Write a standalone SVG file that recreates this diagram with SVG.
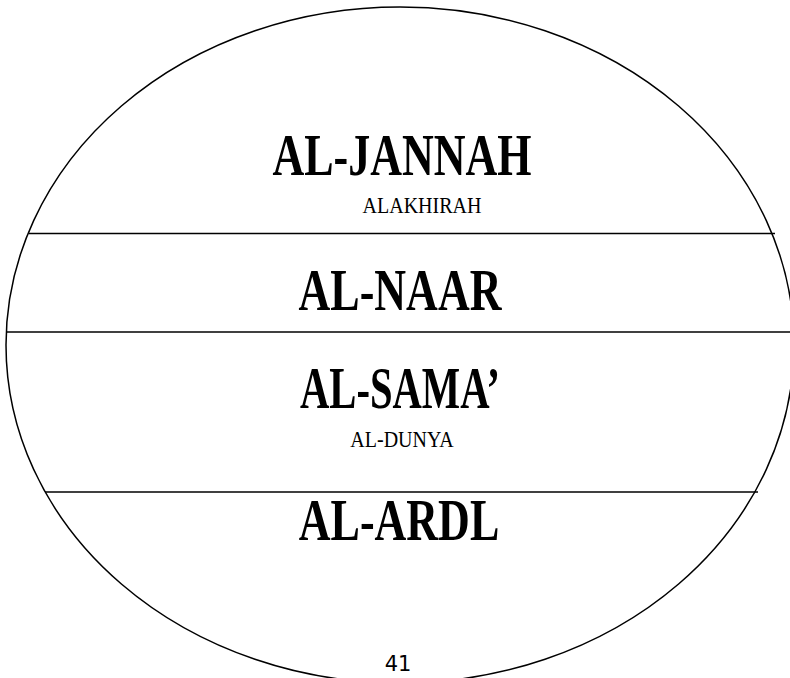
<svg xmlns="http://www.w3.org/2000/svg" width="790" height="678" viewBox="0 0 790 678">
<style>
.ln{stroke:#000;stroke-width:1.5;fill:none}
.big{font-family:"Liberation Serif","Times New Roman",serif;font-weight:bold;font-size:44px;fill:#000;text-anchor:middle}
.small{font-family:"Liberation Serif","Times New Roman",serif;font-size:20px;fill:#000;text-anchor:middle}
</style>
<rect width="790" height="678" fill="#fff"/>
<g id="outline">
<ellipse class="ln" cx="400" cy="345" rx="394" ry="338"/>
</g>
<g id="connectors">
<line class="ln" x1="29" y1="233.5" x2="775" y2="233.5"/>
<line class="ln" x1="6" y1="332" x2="790" y2="332"/>
<line class="ln" x1="45" y1="492" x2="758" y2="492"/>
</g>
<g id="jannah">
<text class="big" transform="translate(402,175) scale(1,1.35)">AL-JANNAH</text>
<text class="small" transform="translate(422,213) scale(1,1.15)">ALAKHIRAH</text>
</g>
<g id="naar">
<text class="big" transform="translate(400,310) scale(1,1.35)">AL-NAAR</text>
</g>
<g id="sama">
<text class="big" transform="translate(400,408) scale(1,1.35)" textLength="200" lengthAdjust="spacingAndGlyphs">AL-SAMA’</text>
<text class="small" transform="translate(402,447) scale(1,1.15)">AL-DUNYA</text>
</g>
<g id="ardl">
<text class="big" transform="translate(399,540) scale(1,1.35)">AL-ARDL</text>
</g>
<g id="page">
<rect x="343" y="646" width="112" height="32" fill="#fff"/>
<text x="398" y="671" font-family="DejaVu Sans,sans-serif" font-size="21" text-anchor="middle">41</text>
</g>
</svg>
